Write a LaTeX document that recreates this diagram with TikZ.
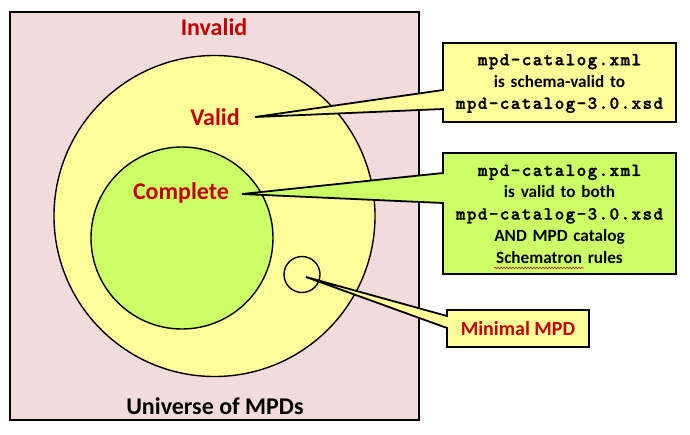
\documentclass[tikz,border=0pt]{standalone}
\usepackage{fontspec}
\setmainfont{Carlito}
\newfontfamily\monofont[LetterSpace=7.5,FakeBold=1.6]{lmmonolt10-bold.otf}
\usetikzlibrary{calc,decorations.pathmorphing}
\pgfdeclarelayer{front}
\pgfsetlayers{main,front}
\definecolor{pinkbg}{HTML}{F2DCDB}
\definecolor{yel}{HTML}{FFFF99}
\definecolor{grn}{HTML}{CCFF66}
\definecolor{redtxt}{HTML}{C00000}
\tikzset{
  setline/.style={draw=black,line width=1.4pt},
  biglabel/.style={font=\bfseries\fontsize{24}{27}\selectfont,text=redtxt,inner sep=0pt},
  calltext/.style={font=\bfseries\fontsize{17.2}{21.8}\selectfont,align=center,inner sep=0pt,minimum width=233pt,text width=233pt},
  callshape/.style={draw=black,line width=1.8pt,line join=miter},
}
\newcommand{\mono}[1]{{\monofont\fontsize{18.3}{21.8}\selectfont #1}}
\begin{document}
\begin{tikzpicture}[x=1pt,y=-1pt]
\useasboundingbox (0,0) rectangle (690,434);
% universe
\node[draw=black,line width=1.8pt,fill=pinkbg,minimum width=409pt,minimum height=408pt,inner sep=0pt] (uni) at (214.5,216) {};
% circles
\node[setline,fill=yel,circle,minimum size=321pt,inner sep=0pt] (valid) at (214.5,216) {};
\node[setline,fill=grn,circle,minimum size=182pt,inner sep=0pt] (complete) at (182,238) {};
\node[setline,circle,minimum size=36pt,inner sep=0pt] (minimal) at (302,274.5) {};
% labels
\node[biglabel] (linvalid) at (214,27) {Invalid};
\node[biglabel] (lvalid) at (215,117) {Valid};
\node[biglabel] (lcomplete) at (181,193) {Complete};
\node[biglabel,text=black] (luniverse) at (215,406) {Universe of MPDs};
% tips
\coordinate (t1) at (255,117);
\coordinate (t2) at (242,194);
\coordinate (t3) at (306,277);
% callout texts
\begin{pgfonlayer}{front}
\node[calltext,minimum height=79pt] (b1) at (559.5,83.5) {\mono{mpd-catalog.xml}\\is schema-valid to\\\mono{mpd-catalog-3.0.xsd}};
\node[calltext,minimum height=121pt] (b2) at (559.5,214) {\mono{mpd-catalog.xml}\\is valid to both\\\mono{mpd-catalog-3.0.xsd}\\AND MPD catalog\\Schematron rules};
\node[font=\bfseries\fontsize{20}{24}\selectfont,text=redtxt,inner sep=0pt,minimum width=142pt,minimum height=37pt] (b3) at (518,328.5) {Minimal MPD};
\end{pgfonlayer}
% callout shapes
\coordinate (b1nw) at (443,43);
\coordinate (b2nw) at (443,153);
\coordinate (b3nw) at (447,310);
\draw[callshape,fill=yel] (b1nw) -- (676,43) -- (676,122) -- (443,122)
  -- ($(b1nw)+(0,66)$) -- (t1) -- ($(b1nw)+(0,47)$) -- cycle;
\draw[callshape,fill=grn] (b2nw) -- (676,153) -- (676,274) -- (443,274)
  -- ($(b2nw)+(0,50)$) -- (t2) -- ($(b2nw)+(0,20)$) -- cycle;
\draw[callshape,fill=yel] (b3nw) -- (589,310) -- (589,347) -- (447,347)
  -- ($(b3nw)+(0,18)$) -- (t3) -- ($(b3nw)+(0,6)$) -- cycle;
% spell-check underline
\coordinate (sq1) at (494,268);
\coordinate (sq2) at (584,268);
\draw[redtxt,line width=0.5pt,decorate,decoration={snake,amplitude=0.8pt,segment length=3pt}] (sq1) -- (sq2);
\end{tikzpicture}
\end{document}
